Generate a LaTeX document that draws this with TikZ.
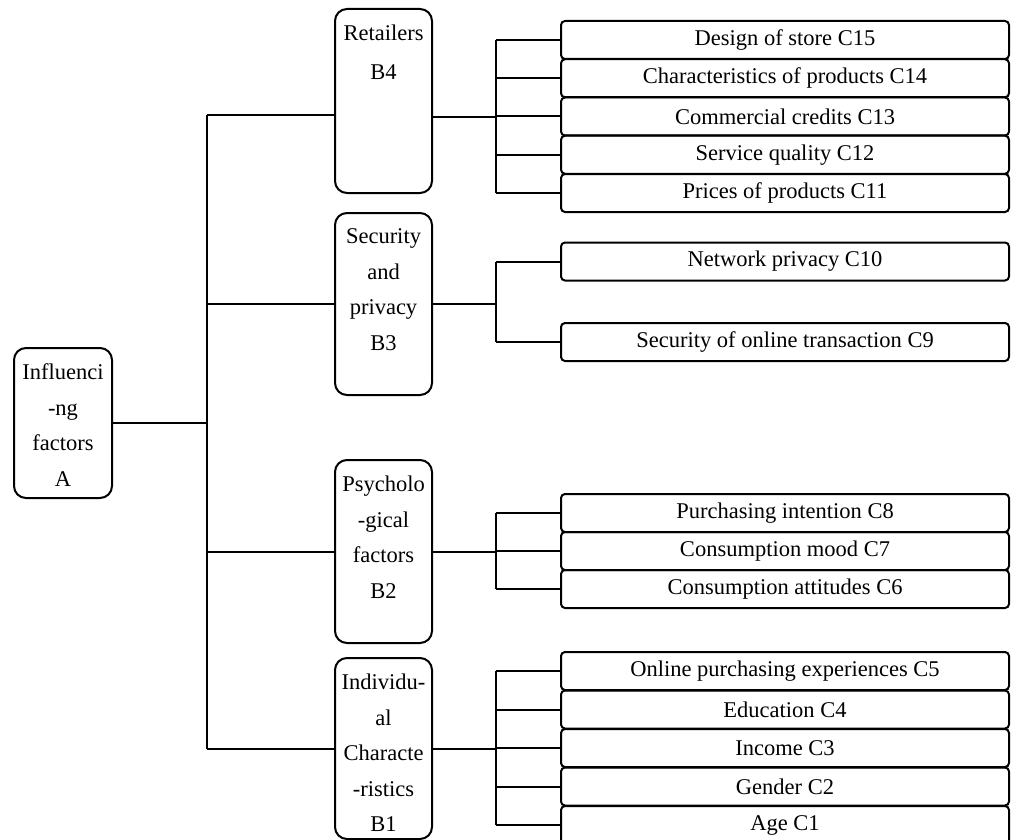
\documentclass[tikz,border=0pt]{standalone}
\usepackage{fontspec}
\setmainfont{Liberation Serif}
\begin{document}
\begin{tikzpicture}[x=1pt,y=-1pt,
  line width=2pt,
  bigbox/.style={draw,rounded corners=12pt,minimum width=97pt,inner sep=0pt},
  cbox/.style={draw,rounded corners=4pt,minimum width=448pt,minimum height=38pt,inner sep=0pt,font=\fontsize{22.5}{27}\selectfont},
  lbl/.style={anchor=north,align=center,inner sep=0pt,font=\fontsize{22.5}{35.5}\selectfont},
  conn/.style={line width=2pt}]
\useasboundingbox (0,0) rectangle (1014,840);

% Level A
\node[bigbox,minimum width=98pt,minimum height=150pt] (A) at (63,423) {};
\node[lbl] (tA) at ([yshift=-16pt]A.north) {Influenci\\-ng\\factors\\A};

% Level B
\node[bigbox,minimum height=184pt] (B4) at (383.5,101) {};
\node[lbl] (tB4) at ([yshift=-16pt]B4.north) {Retailers\\[3.5pt]B4};
\node[bigbox,minimum height=182pt] (B3) at (383.5,304) {};
\node[lbl] (tB3) at ([yshift=-16pt]B3.north) {Security\\and\\privacy\\B3};
\node[bigbox,minimum height=183pt] (B2) at (383.5,551.5) {};
\node[lbl] (tB2) at ([yshift=-16pt]B2.north) {Psycholo\\-gical\\factors\\B2};
\node[bigbox,minimum height=181pt] (B1) at (383.5,748.5) {};
\node[lbl] (tB1) at ([yshift=-16pt]B1.north) {Individu-\\al\\Characte\\-ristics\\B1};

% Level C
\node[cbox] (C15) at (785,40) {Design of store C15};
\node[cbox] (C14) at (785,78.25) {Characteristics of products C14};
\node[cbox] (C13) at (785,116.5) {Commercial credits C13};
\node[cbox] (C12) at (785,154.75) {Service quality C12};
\node[cbox] (C11) at (785,193) {Prices of products C11};

\node[cbox] (C10) at (785,261.5) {Network privacy C10};
\node[cbox] (C9) at (785,342) {Security of online transaction C9};

\node[cbox] (C8) at (785,513) {Purchasing intention C8};
\node[cbox] (C7) at (785,551) {Consumption mood C7};
\node[cbox] (C6) at (785,589) {Consumption attitudes C6};

\node[cbox] (C5) at (785,671) {Online purchasing experiences C5};
\node[cbox] (C4) at (785,709.5) {Education C4};
\node[cbox] (C3) at (785,748) {Income C3};
\node[cbox] (C2) at (785,786.5) {Gender C2};
\node[cbox] (C1) at (785,825) {Age C1};

% trunk
\coordinate (t) at (207,0);
\coordinate (inB4) at ([yshift=-14pt]B4.west);
\coordinate (outB4) at ([yshift=-16pt]B4.east);
\draw[conn] (A.east) -- (A.east -| t);
\draw[conn] (inB4 -| t) -- (B1.west -| t);
\draw[conn] (inB4 -| t) -- (inB4);
\draw[conn] (B3.west -| t) -- (B3.west);
\draw[conn] (B2.west -| t) -- (B2.west);
\draw[conn] (B1.west -| t) -- (B1.west);

% brackets
\coordinate (k) at (496,0);
\draw[conn] (outB4) -- (outB4 -| k);
\draw[conn] (k |- C15.west) -- (k |- C11.west);
\foreach \c in {C15,C14,C13,C12,C11} \draw[conn] (k |- \c.west) -- (\c.west);

\draw[conn] (B3.east) -- (B3.east -| k);
\draw[conn] (k |- C10.west) -- (k |- C9.west);
\foreach \c in {C10,C9} \draw[conn] (k |- \c.west) -- (\c.west);

\draw[conn] (B2.east) -- (B2.east -| k);
\draw[conn] (k |- C8.west) -- (k |- C6.west);
\foreach \c in {C8,C7,C6} \draw[conn] (k |- \c.west) -- (\c.west);

\draw[conn] (B1.east) -- (B1.east -| k);
\draw[conn] (k |- C5.west) -- (k |- C1.west);
\foreach \c in {C5,C4,C3,C2,C1} \draw[conn] (k |- \c.west) -- (\c.west);
\end{tikzpicture}
\end{document}
